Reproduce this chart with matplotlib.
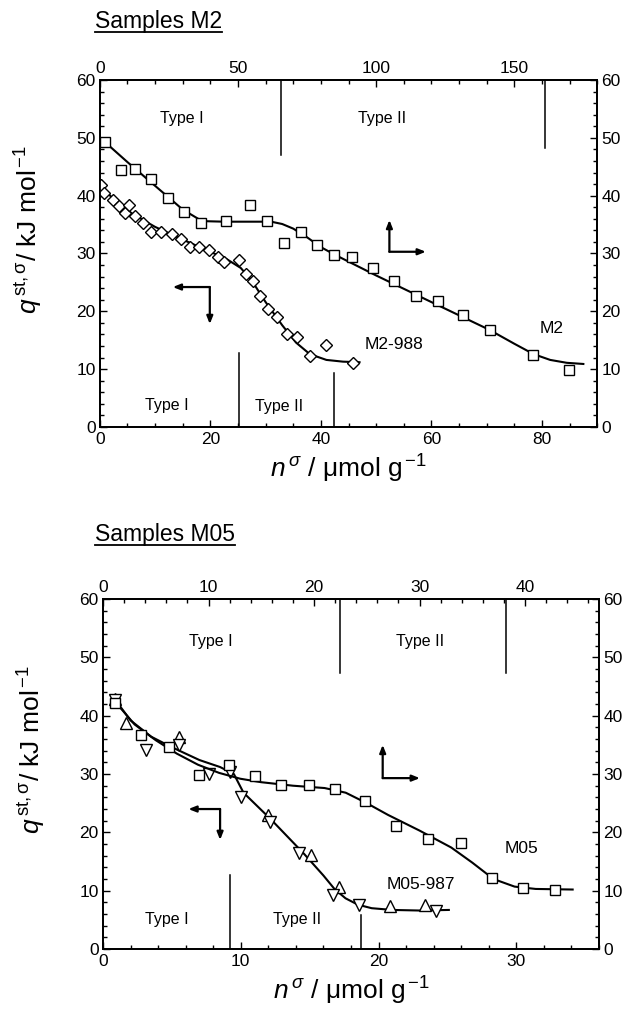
import matplotlib
matplotlib.use("Agg")
import matplotlib.pyplot as plt
from matplotlib.ticker import MultipleLocator
from matplotlib.lines import Line2D

plt.rcParams['font.family'] = ['Liberation Sans', 'DejaVu Sans']
plt.rcParams['mathtext.fontset'] = 'custom'
plt.rcParams['mathtext.rm'] = 'Liberation Sans'
plt.rcParams['mathtext.it'] = 'Liberation Sans:italic'
plt.rcParams['mathtext.sf'] = 'Liberation Sans'

# ---------------- Data: Samples M2 ----------------
# M2 (squares, top axis)
m2_x = [2.0, 7.5, 12.8, 18.5, 24.6, 30.5, 36.6, 45.5, 54.4, 60.6, 66.8, 72.9, 78.7,
        84.9, 91.3, 98.8, 106.5, 114.4, 122.3, 131.4, 141.3, 156.9, 169.9]
m2_y = [49.3, 44.5, 44.6, 42.9, 39.6, 37.1, 35.3, 35.7, 38.4, 35.7, 31.8, 33.7, 31.5,
        29.7, 29.4, 27.5, 25.3, 22.7, 21.8, 19.3, 16.8, 12.5, 9.9]
m2_fit_x = [2, 10, 20, 30, 37, 45, 55, 62, 66, 70, 75, 80, 85, 100, 120, 141, 150,
            157, 163, 169, 175]
m2_fit_y = [49.2, 45.8, 41.7, 37.6, 35.6, 35.5, 35.5, 35.5, 35.1, 34.3, 32.8, 31.1,
            29.8, 26.2, 21.6, 16.8, 14.4, 12.6, 11.6, 11.1, 10.9]

# M2-988 (diamonds, bottom axis)
m2988_x = [0.3, 0.8, 2.3, 3.4, 4.5, 5.3, 6.4, 7.8, 9.3, 11.1, 13.0, 14.7, 16.3, 17.9,
           19.7, 21.3, 22.5, 25.1, 26.4, 27.7, 29.0, 30.4, 32.0, 33.8, 35.7, 38.0,
           40.9, 45.8]
m2988_y = [41.8, 40.4, 39.2, 38.2, 37.0, 38.4, 36.5, 35.2, 33.8, 33.8, 33.4, 32.5,
           31.1, 31.1, 30.6, 29.4, 28.6, 28.8, 26.4, 25.3, 22.7, 20.4, 19.0, 16.1,
           15.6, 12.2, 14.2, 11.0]
m2988_fit_x = [0.3, 3, 6, 10, 15, 20, 23, 25.5, 27.5, 30, 33, 35.5, 38, 41, 44, 47]
m2988_fit_y = [41.5, 38.9, 36.8, 34.6, 32.4, 30.3, 29.0, 27.5, 25.3, 21.6, 17.6,
               14.6, 12.6, 11.6, 11.3, 11.2]

# ---------------- Data: Samples M05 ----------------
# M05 (squares, top axis)
m05_x = [1.1, 3.6, 6.3, 9.1, 11.9, 14.4, 16.9, 19.5, 22.0, 24.8, 27.8, 30.8, 33.9,
         36.9, 39.8, 42.8]
m05_y = [42.2, 36.7, 34.7, 29.8, 31.6, 29.6, 28.2, 28.1, 27.4, 25.3, 21.1, 18.8,
         18.1, 12.1, 10.4, 10.2]
m05_fit_x = [1.1, 3, 5, 7, 9, 11, 13, 15, 18, 21, 23, 25, 27, 30, 33, 35, 37, 39,
             41, 44.5]
m05_fit_y = [42.5, 38.5, 35.8, 33.5, 31.6, 30.2, 29.2, 28.6, 28.0, 27.6, 26.8, 25.0,
             23.0, 20.3, 17.4, 14.8, 12.0, 10.7, 10.3, 10.2]

# M05-987 (bottom axis): up triangles and down triangles
m05987_up_x = [0.84, 1.7, 5.5, 12.0, 15.1, 17.1, 20.8, 23.4]
m05987_up_y = [42.9, 38.7, 36.3, 23.0, 16.1, 10.7, 7.4, 7.5]
m05987_dn_x = [0.84, 3.1, 5.5, 7.7, 9.2, 10.0, 12.1, 14.2, 16.7, 18.6, 24.2]
m05987_dn_y = [42.7, 34.1, 35.0, 30.0, 30.3, 26.1, 21.8, 16.5, 9.3, 7.5, 6.6]
m05987_fit_x = [0.9, 2, 3.5, 5, 7, 8.5, 9.5, 10.2, 12.2, 14.6, 16.0, 16.8, 17.6,
                18.5, 19.5, 21, 23, 25.1]
m05987_fit_y = [42.7, 39.2, 36.4, 34.6, 32.4, 31.2, 30.0, 26.8, 22.2, 16.3, 12.6,
                10.3, 8.7, 7.6, 7.0, 6.7, 6.6, 6.7]

fig = plt.figure(figsize=(6.24, 10.15), dpi=100)

TICKFS = 12.5
LABFS = 19
TYPEFS = 11.5
NAMEFS = 12.5


def style_axes(ax, axt, xmaj, xmin, txmaj, txmin):
    ax.set_ylim(0, 60)
    ax.yaxis.set_major_locator(MultipleLocator(10))
    ax.yaxis.set_minor_locator(MultipleLocator(2))
    ax.xaxis.set_major_locator(MultipleLocator(xmaj))
    ax.xaxis.set_minor_locator(MultipleLocator(xmin))
    axt.xaxis.set_major_locator(MultipleLocator(txmaj))
    axt.xaxis.set_minor_locator(MultipleLocator(txmin))
    ax.tick_params(axis='both', which='both', direction='in', labelsize=TICKFS,
                   width=1.0)
    ax.tick_params(axis='y', which='both', left=True, right=True, labelright=True,
                   pad=3)
    ax.tick_params(which='major', length=5)
    ax.tick_params(which='minor', length=3)
    axt.tick_params(axis='x', which='both', direction='in', labelsize=TICKFS,
                    width=1.0, top=True, pad=3)
    axt.tick_params(which='major', length=5)
    axt.tick_params(which='minor', length=3)
    for sp in ax.spines.values():
        sp.set_linewidth(1.3)
    for sp in axt.spines.values():
        sp.set_linewidth(1.3)
    ax.set_ylabel(r"$q^{\,\mathrm{st,\sigma}}$/ kJ mol$^{\,\mathrm{-1}}$", fontsize=LABFS)
    ax.yaxis.set_label_coords(-0.11, 0.57)
    ax.set_xlabel(r"$n^{\,\sigma}$ / $\mathrm{\mu}$mol g$^{\,\mathrm{-1}}$", fontsize=LABFS,
                  labelpad=4)


def lshape(ax, corner, horiz_to, vert_to):
    cx, cy = corner
    ap = dict(arrowstyle='-|>,head_length=0.45,head_width=0.18', lw=1.6, color='black',
              shrinkA=0, shrinkB=0)
    ax.annotate('', xy=(horiz_to, cy), xytext=(cx, cy), arrowprops=ap)
    ax.annotate('', xy=(cx, vert_to), xytext=(cx, cy), arrowprops=ap)


def underlined_title(text, x, y):
    t = fig.text(x, y, text, fontsize=16.5, ha='left', va='baseline')
    fig.canvas.draw()
    bb = t.get_window_extent(renderer=fig.canvas.get_renderer())
    bbf = bb.transformed(fig.transFigure.inverted())
    yl = y - 0.0040
    fig.add_artist(Line2D([bbf.x0, bbf.x1], [yl, yl], transform=fig.transFigure,
                          color='black', lw=1.3))


mk = dict(mfc='white', mec='black', mew=1.0, ls='none', zorder=3)

# ---------------- Top panel ----------------
ax1 = fig.add_axes([0.160, 0.5793, 0.797, 0.3419])
ax1.set_xlim(0, 90)
ax1t = ax1.twiny()
ax1t.set_xlim(0, 180)
style_axes(ax1, ax1t, 20, 5, 50, 10)

ax1.plot(m2988_fit_x, m2988_fit_y, color='black', lw=1.5, zorder=2)
ax1.plot(m2988_x, m2988_y, marker='D', ms=6, **mk)
ax1t.plot(m2_fit_x, m2_fit_y, color='black', lw=1.5, zorder=2)
ax1t.plot(m2_x, m2_y, marker='s', ms=6.5, **mk)

# type boundaries
ax1t.plot([65.5, 65.5], [60, 47], color='black', lw=1.1)
ax1t.plot([161, 161], [60, 48.2], color='black', lw=1.1)
ax1t.text(29.5, 53.4, 'Type I', fontsize=TYPEFS, ha='center', va='center')
ax1t.text(102, 53.4, 'Type II', fontsize=TYPEFS, ha='center', va='center')
ax1.plot([25.2, 25.2], [0, 12.8], color='black', lw=1.1)
ax1.plot([42.4, 42.4], [0, 9.3], color='black', lw=1.1)
ax1.text(12.2, 3.8, 'Type I', fontsize=TYPEFS, ha='center', va='center')
ax1.text(32.4, 3.6, 'Type II', fontsize=TYPEFS, ha='center', va='center')

ax1.text(53.3, 14.2, 'M2-988', fontsize=NAMEFS, ha='center', va='center')
ax1.text(81.7, 17.1, 'M2', fontsize=NAMEFS, ha='center', va='center')

lshape(ax1, (19.9, 24.2), 13.2, 17.8)
lshape(ax1, (52.4, 30.3), 59.0, 35.8)

# ---------------- Bottom panel ----------------
ax2 = fig.add_axes([0.165, 0.065, 0.795, 0.3448])
ax2.set_xlim(0, 36)
ax2t = ax2.twiny()
ax2t.set_xlim(0, 47)
style_axes(ax2, ax2t, 10, 2, 10, 2)

ax2.plot(m05987_fit_x, m05987_fit_y, color='black', lw=1.5, zorder=2)
ax2.plot(m05987_up_x, m05987_up_y, marker='^', ms=8, **mk)
ax2.plot(m05987_dn_x, m05987_dn_y, marker='v', ms=8, **mk)
ax2t.plot(m05_fit_x, m05_fit_y, color='black', lw=1.5, zorder=2)
ax2t.plot(m05_x, m05_y, marker='s', ms=6.5, **mk)

ax2t.plot([22.5, 22.5], [60, 47.3], color='black', lw=1.1)
ax2t.plot([38.2, 38.2], [60, 47.3], color='black', lw=1.1)
ax2t.text(10.2, 52.7, 'Type I', fontsize=TYPEFS, ha='center', va='center')
ax2t.text(30.0, 52.7, 'Type II', fontsize=TYPEFS, ha='center', va='center')
ax2.plot([9.24, 9.24], [0, 12.7], color='black', lw=1.1)
ax2.plot([18.7, 18.7], [0, 5.8], color='black', lw=1.1)
ax2.text(4.6, 5.0, 'Type I', fontsize=TYPEFS, ha='center', va='center')
ax2.text(14.1, 5.0, 'Type II', fontsize=TYPEFS, ha='center', va='center')

ax2.text(30.4, 17.3, 'M05', fontsize=NAMEFS, ha='center', va='center')
ax2.text(23.1, 11.0, 'M05-987', fontsize=NAMEFS, ha='center', va='center')

lshape(ax2, (8.5, 24.0), 6.2, 18.7)
lshape(ax2, (20.3, 29.3), 23.0, 35.0)

underlined_title('Samples M2', 95 / 624, 1 - 28 / 1015)
underlined_title('Samples M05', 95 / 624, 1 - 541 / 1015)

fig.savefig('out.png', dpi=100)
